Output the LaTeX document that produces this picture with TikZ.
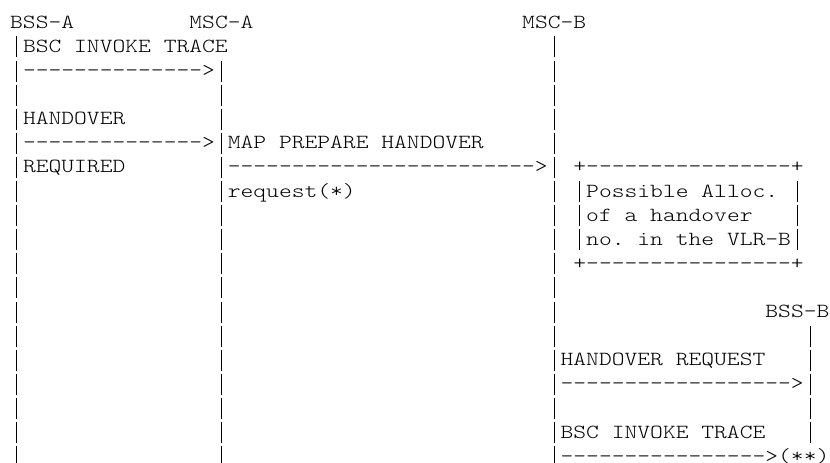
\documentclass[tikz,border=0pt]{standalone}
\usepackage{fontspec}
\setmonofont{lmmonolt10-regular}[Extension=.otf, FakeStretch=1.219]
\newcommand{\asciibar}{\makebox[12.8pt]{\rule[-5pt]{0.75pt}{21pt}}}
\begin{document}
\begin{tikzpicture}[x=12.8pt,y=-24.1pt,
                ascii/.style={font=\ttfamily\fontsize{20}{24.1}\selectfont,
                inner sep=0pt, anchor=base west}]
  \useasboundingbox (-10pt,28.3pt) rectangle (820pt,-434.7pt);

  \node[ascii] (bssa) at (0,0) {BSS-A};
  \node[ascii] (msca) at (14,0) {MSC-A};
  \node[ascii] (mscb) at (40,0) {MSC-B};
  \node[ascii] (bssb) at (59,12) {BSS-B};

  \foreach \r in {1,...,18} \node[ascii] (bssa-\r) at (0,\r) {\asciibar};
  \foreach \r in {2,...,18} \node[ascii] (msca-\r) at (16,\r) {\asciibar};
  \foreach \r in {1,...,18} \node[ascii] (mscb-\r) at (42,\r) {\asciibar};
  \foreach \r in {13,...,17} \node[ascii] (bssb-\r) at (62,\r) {\asciibar};

  \node[ascii] (trace1) at (1,1) {BSC INVOKE TRACE};
  \node[ascii] (arr1) at (1,2) {-------------->};
  \node[ascii] (horeq1) at (1,4) {HANDOVER};
  \node[ascii] (arr2) at (1,5) {-------------->};
  \node[ascii] (horeq2) at (1,6) {REQUIRED};

  \node[ascii] (map1) at (17,5) {MAP PREPARE HANDOVER};
  \node[ascii] (arr3) at (17,6) {------------------------>};
  \node[ascii] (map2) at (17,7) {request(*)};

  \node[ascii] (boxtop) at (44,6) {+----------------+};
  \foreach \r in {7,8,9} {
    \node[ascii] (boxl-\r) at (44,\r) {\asciibar};
    \node[ascii] (boxr-\r) at (61,\r) {\asciibar};
  }
  \node[ascii] (alloc1) at (45,7) {Possible Alloc.};
  \node[ascii] (alloc2) at (45,8) {of a handover};
  \node[ascii] (alloc3) at (45,9) {no. in the VLR-B};
  \node[ascii] (boxbot) at (44,10) {+----------------+};

  \node[ascii] (horeq3) at (43,14) {HANDOVER REQUEST};
  \node[ascii] (arr4) at (43,15) {------------------>};
  \node[ascii] (trace2) at (43,17) {BSC INVOKE TRACE};
  \node[ascii] (arr5) at (43,18) {---------------->(**)};
\end{tikzpicture}
\end{document}
